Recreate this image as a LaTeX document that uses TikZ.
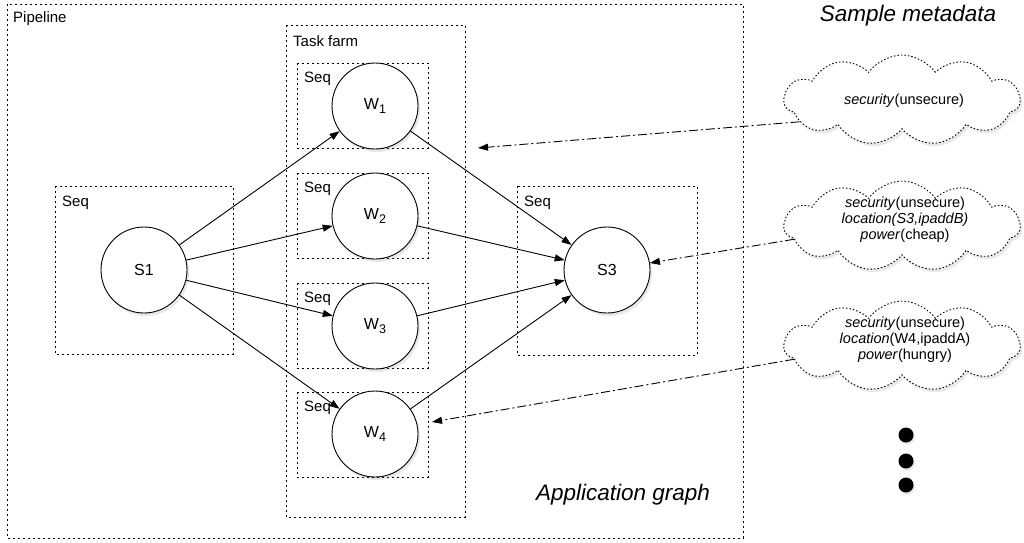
\documentclass[tikz,border=0pt]{standalone}
\usepackage{fontspec}
\setmainfont{Liberation Sans}
\usetikzlibrary{shapes.symbols,shadows,arrows.meta}
\begin{document}
\begin{tikzpicture}[x=1pt,y=-1pt,
  box/.style={draw, line width=0.9pt, dash pattern=on 1.6pt off 3.4pt},
  lbl/.style={anchor=west, font=\fontsize{15}{17}\selectfont, inner sep=0pt},
  proc/.style={circle, draw, line width=0.9pt, fill=white, minimum size=86pt, inner sep=0pt,
    drop shadow={opacity=0.18, shadow xshift=2pt, shadow yshift=-3pt},
    font=\fontsize{16}{18}\selectfont},
  meta/.style={cloud, cloud puffs=11, cloud puff arc=110, aspect=2.9, draw, line width=0.9pt,
    dash pattern=on 1.5pt off 2pt, fill=white, minimum width=236pt, minimum height=90pt,
    inner sep=0pt,
    drop shadow={opacity=0.18, shadow xshift=2pt, shadow yshift=-3pt}},
  metatext/.style={align=center, inner sep=0pt, font=\fontsize{14.5}{16}\selectfont},
  flow/.style={-{Triangle[length=10pt,width=7pt]}, line width=0.9pt},
  ann/.style={-{Triangle[length=10pt,width=7pt]}, line width=0.9pt,
    dash pattern=on 9pt off 3pt on 2pt off 3pt},
  dot/.style={circle, fill=black, minimum size=15pt, inner sep=0pt,
    drop shadow={opacity=0.18, shadow xshift=1.5pt, shadow yshift=-2pt}},
  title/.style={font=\fontsize{22.5}{26}\selectfont\itshape, inner sep=0pt}
]
\useasboundingbox (0,0) rectangle (1024,542);

% boxes
\draw[box] (7,4) rectangle (743,538);
\draw[box] (286,25) rectangle (465,517);
\draw[box] (297,63) rectangle (428,148);
\draw[box] (297,173) rectangle (428,258);
\draw[box] (297,283) rectangle (428,368);
\draw[box] (297,392) rectangle (428,477);
\draw[box] (55,186) rectangle (233,354);
\draw[box] (517,186) rectangle (697,355);

% labels
\node[lbl] (lpipe) at (13,19) {Pipeline};
\node[lbl] (lfarm) at (293,41) {Task farm};
\node[lbl] (lq1) at (304,79) {Seq};
\node[lbl] (lq2) at (304,189) {Seq};
\node[lbl] (lq3) at (304,299) {Seq};
\node[lbl] (lq4) at (304,408) {Seq};
\node[lbl] (lqs1) at (62,203) {Seq};
\node[lbl] (lqs3) at (524,203) {Seq};

% processes
\node[proc] (s1) at (144,270) {S1};
\node[proc] (s3) at (607,270) {S3};
\node[proc] (w1) at (375,106) {W\raisebox{-0.5ex}{\fontsize{12.5}{14}\selectfont 1}};
\node[proc] (w2) at (375,216) {W\raisebox{-0.5ex}{\fontsize{12.5}{14}\selectfont 2}};
\node[proc] (w3) at (375,326) {W\raisebox{-0.5ex}{\fontsize{12.5}{14}\selectfont 3}};
\node[proc] (w4) at (375,434) {W\raisebox{-0.5ex}{\fontsize{12.5}{14}\selectfont 4}};

% flows
\foreach \w in {w1,w2,w3,w4} {
  \draw[flow] (s1) -- (\w);
  \draw[flow] (\w) -- (s3);
}

% metadata clouds
\node[meta] (c1) at (902,100) {};
\node[meta] (c2) at (902,226) {};
\node[meta] (c3) at (902,346) {};
\node[metatext] (c1t) at (904,101) {\textit{security}(unsecure)};
\node[metatext] (c2t) at (905,220) {\textit{security}(unsecure)\\\textit{location(S3,ipaddB)}\\\textit{power}(cheap)};
\node[metatext] (c3t) at (905,340) {\textit{security}(unsecure)\\\textit{location}(W4,ipaddA)\\\textit{power}(hungry)};

\coordinate (t1) at (478,148);
\coordinate (t3) at (432,422);
\draw[ann] (c1.192) -- (t1);
\draw[ann] (c2.187) -- (s3);
\draw[ann] (c3.187) -- (t3);

% dots
\node[dot] (d1) at (906,435) {};
\node[dot] (d2) at (906,461) {};
\node[dot] (d3) at (906,485) {};

% titles
\node[title] (tmeta) at (908,16) {Sample metadata};
\node[title] (tapp) at (623,495) {Application graph};
\end{tikzpicture}
\end{document}
